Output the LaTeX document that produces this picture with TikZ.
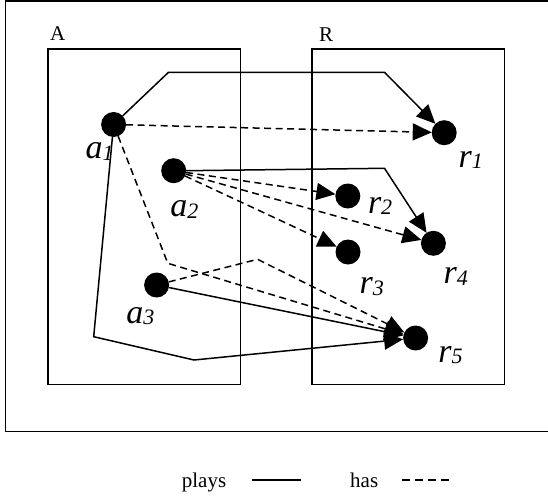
\documentclass[tikz,border=0pt]{standalone}
\usepackage{fontspec}
\setmainfont{Liberation Serif}
\usetikzlibrary{arrows.meta}
\newcommand\sublab[2]{{\fontsize{34}{34}\selectfont\itshape #1\raisebox{-1.5pt}{\fontsize{22}{22}\selectfont #2}}}
\tikzset{
  dot/.style={circle,fill=black,minimum size=25pt,inner sep=0pt,outer sep=0pt},
  lab/.style={inner sep=0pt,anchor=base west},
  boxline/.style={line width=1.3pt},
  plays/.style={line width=1.5pt},
  has/.style={line width=1.5pt,dash pattern=on 7pt off 4.5pt},
  tip/.style={-{Triangle[length=19pt,width=17pt]}},
  plain/.style={inner sep=0pt,anchor=base west,font=\fontsize{21}{21}\selectfont}
}
\begin{document}
\begin{tikzpicture}[x=1pt,y=-1pt]
\useasboundingbox (0,0) rectangle (548,495);
% outer frame (right side off the picture)
\draw[line width=1.6pt] (560,1.2) -- (5.5,1.2) -- (5.5,431.5) -- (560,431.5);
% boxes
\draw[boxline] (47.9,49) rectangle (240.5,384.5);
\draw[boxline] (312,49) rectangle (504.6,384.5);
\node[plain] (lA) at (50,41) {A};
\node[plain] (lR) at (318.8,41.5) {R};
% dots
\node[dot] (a1) at (113.6,124.5) {};
\node[dot] (a2) at (173.7,170.7) {};
\node[dot] (a3) at (156.6,285) {};
\node[dot] (r1) at (444.2,132.7) {};
\node[dot] (r2) at (347.8,196) {};
\node[dot] (r3) at (348,252) {};
\node[dot] (r4) at (433.4,243.3) {};
\node[dot] (r5) at (415.6,338) {};
% labels
\node[lab] (la1) at (85.3,158.5) {\sublab{a}{1}};
\node[lab] (la2) at (170.2,216.5) {\sublab{a}{2}};
\node[lab] (la3) at (126.2,323.3) {\sublab{a}{3}};
\node[lab] (lr1) at (458.5,167) {\sublab{r}{1}};
\node[lab] (lr2) at (367.8,213) {\sublab{r}{2}};
\node[lab] (lr3) at (359.5,293.5) {\sublab{r}{3}};
\node[lab] (lr4) at (443.4,283.5) {\sublab{r}{4}};
\node[lab] (lr5) at (438.2,362) {\sublab{r}{5}};
% bends
\coordinate (p1) at (168.5,72.3);
\coordinate (p2) at (384.5,72.3);
\coordinate (p3) at (384.5,168.3);
\coordinate (h1) at (167.8,263.3);
\coordinate (h2) at (257.6,259.3);
\coordinate (q1) at (93.7,336.7);
\coordinate (q2) at (194,360);
% plays
\draw[plays,tip] (a1) -- (p1) -- (p2) -- (r1);
\draw[plays,tip] (a2.east) -- (p3) -- (r4);
\draw[plays,tip] (a3) -- (r5);
\draw[plays,tip] (a1) -- (q1) -- (q2) -- (r5);
% has
\draw[has,tip] (a1) -- (r1);
\draw[has,tip] (a2) -- (r2);
\draw[has,tip] (a2) -- (r3);
\draw[has,tip] (a2) -- (r4);
\draw[has,tip] (a1) -- (h1) -- (r5);
\draw[has,tip] (a3) -- (h2) -- (r5);
% legend
\node[plain] (lplays) at (181.7,487.7) {plays};
\node[plain] (lhas) at (350,487.7) {has};
\coordinate (ls1) at (251.7,480);
\coordinate (ls2) at (300.7,480);
\coordinate (lh1) at (402,480);
\coordinate (lh2) at (451,480);
\draw[plays] (ls1) -- (ls2);
\draw[line width=1.5pt,dash pattern=on 8pt off 5pt] (lh1) -- (lh2);
\end{tikzpicture}
\end{document}
